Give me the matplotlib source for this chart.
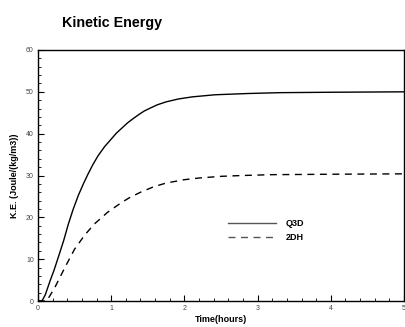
import matplotlib
matplotlib.use("Agg")
import matplotlib.pyplot as plt
from matplotlib.ticker import MultipleLocator

plt.rcParams['font.family'] = ['Liberation Sans', 'DejaVu Sans']

# data
t_q3d = [0, 0.054, 0.1, 0.167, 0.22, 0.28, 0.35, 0.415, 0.48, 0.55, 0.62, 0.685, 0.75,
         0.82, 0.91, 1.0, 1.07, 1.15, 1.225, 1.3, 1.38, 1.45, 1.52, 1.63, 1.75, 1.92,
         2.11, 2.42, 2.87, 3.3, 4.0, 5.0]
ke_q3d = [0, 0, 1.5, 4.9, 7.4, 10.6, 14.4, 18.4, 21.9, 25.2, 28.0, 30.4, 32.6,
          34.7, 36.9, 38.7, 40.1, 41.4, 42.6, 43.6, 44.6, 45.4, 46.0, 46.9, 47.6, 48.3,
          48.8, 49.3, 49.6, 49.8, 49.9, 50.0]

t_2dh = [0, 0.12, 0.235, 0.37, 0.5, 0.64, 0.77, 0.95, 1.13, 1.24, 1.4, 1.58, 1.75,
         2.0, 2.2, 2.5, 2.79, 3.2, 4.0, 5.0]
ke_2dh = [0, 0, 3.4, 8.1, 12.4, 15.8, 18.4, 21.2, 23.4, 24.6, 26.0, 27.3, 28.2,
          29.0, 29.4, 29.8, 30.0, 30.2, 30.3, 30.4]

fig = plt.figure(figsize=(4.05, 3.27), dpi=100)
ax = fig.add_axes([0.0938, 0.0795, 0.9037, 0.7676])

ax.plot(t_q3d, ke_q3d, color='black', lw=1.0, label='Q3D')
ax.plot(t_2dh, ke_2dh, color='black', lw=1.0, dashes=(5, 4), label='2DH')

ax.set_xlim(0, 5)
ax.set_ylim(0, 60)
ax.xaxis.set_major_locator(MultipleLocator(1))
ax.xaxis.set_minor_locator(MultipleLocator(0.2))
ax.yaxis.set_major_locator(MultipleLocator(10))
ax.yaxis.set_minor_locator(MultipleLocator(2))
ax.tick_params(which='both', direction='in', top=False, right=False,
               labelsize=5, labelcolor='#444444', pad=3)
ax.tick_params(which='major', length=4, width=0.8)
ax.tick_params(which='minor', length=2, width=0.6)
for s in ax.spines.values():
    s.set_linewidth(1.0)

ax.set_xlabel('Time(hours)', fontsize=6.5, fontweight='bold', labelpad=2)
ax.set_ylabel('K.E. (Joule/(kg/m3))', fontsize=6.5, fontweight='bold', labelpad=5)

fig.text(0.153, 0.93, 'Kinetic Energy', fontsize=10.3, fontweight='bold', va='center')

leg = ax.legend(loc='upper left', bbox_to_anchor=(0.508, 0.345), frameon=False,
                fontsize=6.5, handlelength=5.3, handletextpad=1.0, labelspacing=0.55,
                borderpad=0)
for txt in leg.get_texts():
    txt.set_fontweight('bold')
for ln in leg.get_lines():
    ln.set_color('#555555')

fig.savefig('out.png', dpi=100)
